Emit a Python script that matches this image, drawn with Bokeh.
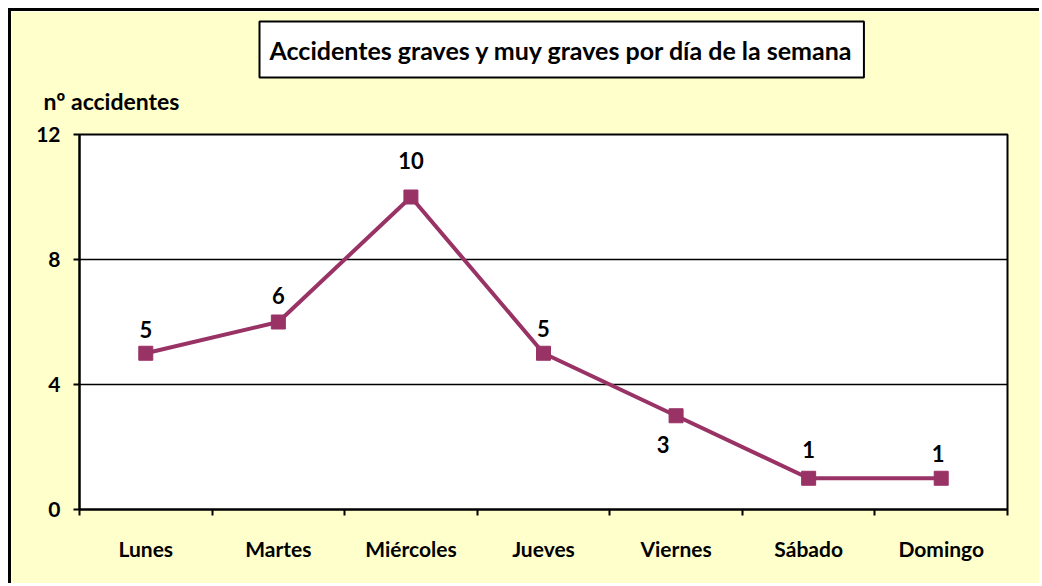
from bokeh.plotting import figure
from bokeh.models import Range1d, FixedTicker, Title, ColumnDataSource, LabelSet
from bokeh.core.properties import value
from bokeh.embed import file_html
from bokeh.resources import INLINE

days = ["Lunes", "Martes", "Miércoles", "Jueves", "Viernes", "Sábado", "Domingo"]
accidents = [5, 6, 10, 5, 3, 1, 1]
y_ticks = [0, 4, 8, 12]
title_text = "Accidentes graves y muy graves por día de la semana"
y_label_text = "nº accidentes"

# label placement offsets (pixels)
label_dx = [0, 0, 0, 0, -13, 0, -3]
label_dy = [24, 27, 37, 25, -29, 29, 25]

FONT = "Lato"
x_pos = [i + 0.5 for i in range(len(days))]

p = figure(width=1031, height=575, output_backend="svg", toolbar_location=None,
           x_range=Range1d(0, len(days)), y_range=Range1d(0, 12),
           min_border_left=68, min_border_top=123, min_border_right=35, min_border_bottom=77,
           styles={"border-left": "3px solid black", "border-top": "3px solid black",
                   "margin-left": "8px", "margin-top": "8px"})
p.background_fill_color = "white"
p.border_fill_color = "#FFFFCC"
p.outline_line_color = "black"
p.outline_line_width = 2

# axes
p.yaxis.ticker = FixedTicker(ticks=y_ticks)
p.yaxis.major_tick_out = 6
p.yaxis.major_tick_in = 0
p.yaxis.minor_tick_line_color = None
p.yaxis.axis_line_width = 2
p.yaxis.major_tick_line_width = 2
p.yaxis.major_label_standoff = 13
p.yaxis.major_label_text_font = FONT
p.yaxis.major_label_text_font_style = "bold"
p.yaxis.major_label_text_font_size = "21px"
p.yaxis.major_label_text_color = "black"

p.xaxis.ticker = FixedTicker(ticks=x_pos, minor_ticks=list(range(len(days) + 1)))
p.xaxis.major_label_overrides = {x: d for x, d in zip(x_pos, days)}
p.xaxis.major_tick_line_color = None
p.xaxis.major_tick_out = 0
p.xaxis.major_tick_in = 0
p.xaxis.minor_tick_out = 6
p.xaxis.minor_tick_in = 0
p.xaxis.minor_tick_line_color = "black"
p.xaxis.minor_tick_line_width = 2
p.xaxis.axis_line_width = 2
p.xaxis.major_label_standoff = 20
p.xaxis.major_label_text_font = FONT
p.xaxis.major_label_text_font_style = "bold"
p.xaxis.major_label_text_font_size = "21px"
p.xaxis.major_label_text_color = "black"

p.xgrid.grid_line_color = None
p.ygrid.ticker = FixedTicker(ticks=y_ticks)
p.ygrid.grid_line_color = "black"
p.ygrid.grid_line_width = 1.5

src = ColumnDataSource(dict(x=x_pos, y=accidents, t=[str(v) for v in accidents],
                            dx=label_dx, dy=label_dy))
p.line("x", "y", source=src, line_color="#993366", line_width=4)
p.scatter("x", "y", source=src, marker="square", size=14, fill_color="#993366",
          line_color="#993366")

labels = LabelSet(x="x", y="y", text="t", source=src, x_offset="dx", y_offset="dy",
                  text_align="center", text_baseline="middle", text_font=value(FONT),
                  text_font_style="bold", text_font_size="22px", text_color="black")
p.add_layout(labels)

ylab = Title(text=y_label_text, align="left", offset=-36, standoff=39,
             text_font=FONT, text_font_style="bold", text_font_size="23px",
             text_color="black")
p.add_layout(ylab, "above")

title = Title(text=title_text, align="left", offset=180, standoff=-24,
              text_font=FONT, text_font_style="bold", text_font_size="25px",
              text_color="black", background_fill_color="white",
              border_line_color="black", border_line_width=2,
              padding=dict(left=10, right=10, top=13, bottom=13))
p.add_layout(title, "above")

open("out.html", "w").write(file_html(p, INLINE))
